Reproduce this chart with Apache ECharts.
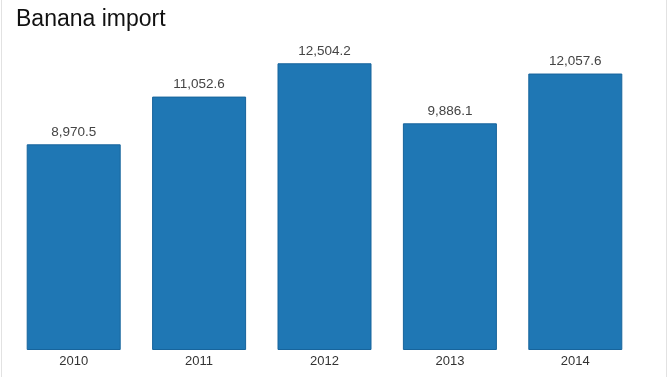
<!DOCTYPE html>
<html>
<head>
<meta charset="utf-8">
<script src="https://cdn.jsdelivr.net/npm/echarts@6/dist/echarts.min.js"></script>
<style>
  html, body { margin: 0; padding: 0; background: #fff; }
  #chart {
    width: 666px;
    height: 377px;
    margin-left: 1px;
    border-left: 1px solid #e2e2e2;
    border-right: 1px solid #e2e2e2;
    box-sizing: border-box;
  }
</style>
</head>
<body>
<div id="chart"></div>
<script>
  // 年份和进口量
  const years = ["2010", "2011", "2012", "2013", "2014"];
  const imports = [8970.5, 11052.6, 12504.2, 9886.1, 12057.6];

  const myChart = echarts.init(document.getElementById("chart"));
  myChart.setOption({
    textStyle: { fontFamily: "Liberation Sans, Arial, sans-serif" },
    title: {
      text: "Banana import",
      left: 9,
      top: 3,
      textStyle: { color: "#111", fontSize: 23, fontWeight: "normal" },
    },
    grid: { left: 9, right: 28, top: 29, bottom: 27 },
    xAxis: {
      type: "category",
      data: years,
      axisLine: { show: false },
      axisTick: { show: false },
      axisLabel: { color: "#333", fontSize: 13, margin: 5 },
    },
    yAxis: {
      type: "value",
      min: 0,
      max: 14000,
      show: false,
      splitLine: { show: false },
    },
    series: [
      {
        type: "bar",
        data: imports,
        barWidth: 94,
        itemStyle: { color: "#1f77b4", borderColor: "#17649c", borderWidth: 1 },
        label: {
          show: true,
          position: "top",
          distance: 5,
          color: "#444",
          fontSize: 13.5,
          formatter: (p) =>
            p.value.toLocaleString("en-US", { minimumFractionDigits: 1, maximumFractionDigits: 1 }),
        },
      },
    ],
  });
</script>
</body>
</html>
